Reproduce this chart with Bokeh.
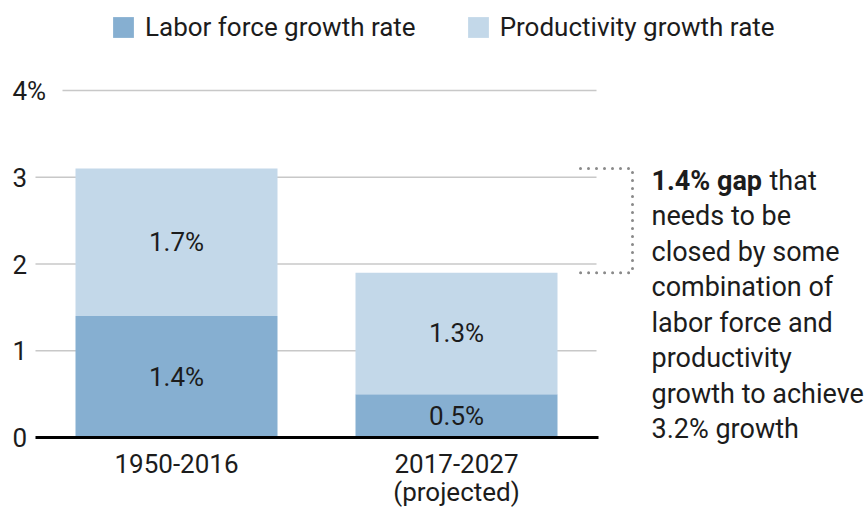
from bokeh.plotting import figure
from bokeh.models import Range1d, Legend, LegendItem, ColumnDataSource
from bokeh.embed import file_html
from bokeh.resources import INLINE
from bokeh.core.properties import value

# ---------------- data ----------------
periods = ["1950-2016", "2017-2027\n(projected)"]
labor = [1.4, 0.5]
productivity = [1.7, 1.4]
labor_labels = ["1.4%", "0.5%"]
productivity_labels = ["1.7%", "1.3%"]
y_ticks = [0, 1, 2, 3, 4]
y_tick_labels = ["0", "1", "2", "3", "4%"]
series_names = ["Labor force growth rate", "Productivity growth rate"]
note_bold = "1.4% gap"
note_first_rest = "that"
note_lines = ["needs to be", "closed by some", "combination of",
              "labor force and", "productivity", "growth to achieve",
              "3.2% growth"]

# ---------------- style / layout ----------------
DARK = "#86afd1"
LIGHT = "#c3d8e9"
GRID = "#c8c8c8"
TEXT = "#1c1c1c"
FONT = value("Roboto")
W, H = 867, 508
OFF = 0  # where the figure's top-left corner lands in the window
# reference-pixel mapping
X0_REF, PX_PER_X = 176.0, 280.0
Y0_REF, PX_PER_Y = 437.0, 86.75


def xd(ref):
    return (ref - X0_REF) / PX_PER_X


def yd(ref):
    return (Y0_REF - ref) / PX_PER_Y


xs = list(range(len(periods)))
totals = [a + b for a, b in zip(labor, productivity)]
src = ColumnDataSource(dict(
    x=xs, labor=labor, total=totals,
    lab_mid=[a / 2 for a in labor],
    prod_mid=[a + b / 2 for a, b in zip(labor, productivity)],
    lab_txt=labor_labels, prod_txt=productivity_labels,
))

p = figure(width=W, height=H, output_backend="svg", toolbar_location=None,
           x_range=Range1d(xd(OFF), xd(OFF + W)),
           y_range=Range1d(yd(OFF + H), yd(OFF)),
           x_axis_location=None, y_axis_location=None,
           min_border=0)
p.outline_line_color = None
p.grid.visible = False
p.background_fill_color = "white"
p.border_fill_color = "white"

# grid lines
gy = y_ticks[1:]
gx0 = [xd(62) if t == y_ticks[-1] else xd(35) for t in gy]
p.segment(x0=gx0, y0=gy, x1=[xd(596)] * len(gy), y1=gy,
          line_color=GRID, line_width=1.5)

# bars
bw = 202 / PX_PER_X
r1 = p.vbar(x="x", bottom=0, top="labor", width=bw, source=src,
            fill_color=DARK, line_color=None)
r2 = p.vbar(x="x", bottom="labor", top="total", width=bw, source=src,
            fill_color=LIGHT, line_color=None)

# baseline
p.segment(x0=[xd(35)], y0=[y_ticks[0]], x1=[xd(598)], y1=[y_ticks[0]],
          line_color="black", line_width=3)

# bar value labels
p.text(x="x", y="lab_mid", text="lab_txt", source=src, text_font=FONT,
       text_font_size="26px", text_color=TEXT, text_align="center",
       text_baseline="middle")
p.text(x="x", y="prod_mid", text="prod_txt", source=src, text_font=FONT,
       text_font_size="26px", text_color=TEXT, text_align="center",
       text_baseline="middle")

# y tick labels (left aligned)
p.text(x=[xd(12)] * len(y_ticks), y=y_ticks, text=y_tick_labels,
       text_font=FONT, text_font_size="26px", text_color=TEXT,
       text_align="left", text_baseline="middle")

# category labels below the baseline
cx, cy, ct = [], [], []
for x, s in zip(xs, periods):
    for j, part in enumerate(s.split("\n")):
        cx.append(x)
        cy.append(yd(463 + 28 * j))
        ct.append(part)
p.text(x=cx, y=cy, text=ct, text_font=FONT, text_font_size="26px",
       text_color=TEXT, text_align="center", text_baseline="middle")

# dotted bracket between the two totals
p.line(x=[xd(580), xd(632), xd(632), xd(580)],
       y=[totals[0], totals[0], totals[1], totals[1]],
       line_color="#8a8a8a", line_width=3, line_dash="0 8",
       line_cap="round")

# note text
line_h = 35.5
first_ref = 180
NOTE_X = 651
NOTE_SIZE = "27px"
p.text(x=[xd(NOTE_X)], y=[yd(first_ref)], text=[note_bold], text_font=FONT,
       text_font_size=NOTE_SIZE, text_font_style="bold", text_color=TEXT,
       text_align="left", text_baseline="middle")
p.text(x=[xd(769)], y=[yd(first_ref)], text=[note_first_rest], text_font=FONT,
       text_font_size=NOTE_SIZE, text_color=TEXT,
       text_align="left", text_baseline="middle")
p.text(x=[xd(NOTE_X)] * len(note_lines),
       y=[yd(first_ref + line_h * (i + 1)) for i in range(len(note_lines))],
       text=note_lines, text_font=FONT, text_font_size=NOTE_SIZE,
       text_color=TEXT, text_align="left", text_baseline="middle")

# legend
legend = Legend(items=[LegendItem(label=series_names[0], renderers=[r1]),
                       LegendItem(label=series_names[1], renderers=[r2])],
                orientation="horizontal", location=(110 - OFF, OFF + H - 42),
                border_line_color=None, background_fill_alpha=0,
                padding=0, margin=0, spacing=49,
                glyph_width=26, glyph_height=26, label_height=26,
                label_standoff=9, label_text_font="Roboto",
                label_text_font_size="26px", label_text_color=TEXT)
p.add_layout(legend)

open("out.html", "w").write(file_html(p, INLINE))
